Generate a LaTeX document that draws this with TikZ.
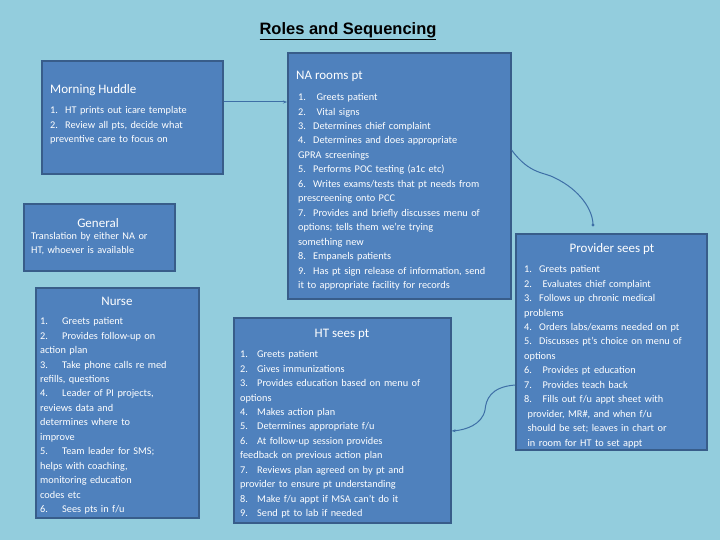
\documentclass[tikz,border=0pt]{standalone}
\usepackage{fontspec}
\setmainfont{Carlito}
\newfontfamily\titlefont{Liberation Sans}
\usetikzlibrary{arrows.meta}
\definecolor{bgc}{HTML}{93CDDD}
\definecolor{boxc}{HTML}{4F81BD}
\definecolor{edgec}{HTML}{385D8A}
\definecolor{linec}{HTML}{3E6FA6}
\newdimen\itmw \itmw=15pt
\newcommand\itm[2]{\par\hangindent=\itmw\hangafter=1\noindent\makebox[\itmw][l]{#1}#2}
\tikzset{
  panel/.style={draw=edgec, line width=1.6pt, fill=boxc, anchor=north west, inner sep=0pt},
  ptitle/.style={text=white, font=\fontsize{13}{15}\selectfont, inner sep=0pt},
  plist/.style={text=white, anchor=north west, inner sep=0pt, align=left,
     font=\fontsize{10.3}{14.45}\selectfont},
  conn/.style={linec, line width=1pt}
}
\begin{document}
\begin{tikzpicture}[x=1pt,y=-1pt]
\fill[bgc] (0,0) rectangle (720,540);
\useasboundingbox (0,0) rectangle (720,540);
\node[text=black, font=\titlefont\bfseries\fontsize{16.5}{19}\selectfont, inner sep=0pt] (title) at (348,31) {\underline{Roles and Sequencing}};
% boxes
\node[panel, minimum width=181, minimum height=113] (mh) at (41,60) {};
\node[panel, minimum width=151, minimum height=67] (gen) at (23,203) {};
\node[panel, minimum width=163, minimum height=230] (nurse) at (35,287) {};
\node[panel, minimum width=223, minimum height=246] (na) at (287,52) {};
\node[panel, minimum width=217, minimum height=205] (ht) at (233,317) {};
\node[panel, minimum width=191, minimum height=216] (prov) at (515,233) {};
% morning huddle
\node[ptitle, anchor=west] (mht) at (50,90) {Morning Huddle};
\node[plist, text width=170] (mhl) at (50,99) {%
\itm{1.}{HT prints out icare template}\itm{2.}{Review all pts, decide what\\ preventive care to focus on}};
% general
\node[ptitle] (gent) at (98,223) {General};
\node[plist, text width=150] (genl) at (31,232) {Translation by either NA or\\HT, whoever is available};
% NA
\node[ptitle, anchor=west] (nat) at (296,76) {NA rooms pt};
\node[plist, text width=215] (nal) at (298,86) {%
\itm{1.}{\ Greets patient}\itm{2.}{\ Vital signs}\itm{3.}{Determines chief complaint}%
\itm{4.}{Determines and does appropriate\\ GPRA screenings}\itm{5.}{Performs POC testing (a1c etc)}%
\itm{6.}{Writes exams/tests that pt needs from\\ prescreening onto PCC}%
\itm{7.}{Provides and briefly discusses menu of\\ options; tells them we’re trying\\ something new}%
\itm{8.}{Empanels patients}\itm{9.}{Has pt sign release of information, send\\ it to appropriate facility for records}};
% nurse
\node[ptitle] (nut) at (117,301) {Nurse};
\node[plist, text width=160] (nul) at (40,310) {\itmw=22pt%
\itm{1.}{Greets patient}\itm{2.}{Provides follow-up on\\action plan}\itm{3.}{Take phone calls re med\\refills, questions}%
\itm{4.}{Leader of PI projects,\\reviews data and\\determines where to\\improve}%
\itm{5.}{Team leader for SMS;\\helps with coaching,\\monitoring education\\codes etc}\itm{6.}{Sees pts in f/u}};
% HT
\node[ptitle] (htt) at (342,334) {HT sees pt};
\node[plist, text width=210] (htl) at (240,343) {\itmw=17pt%
\itm{1.}{Greets patient}\itm{2.}{Gives immunizations}\itm{3.}{Provides education based on menu of\\ options}%
\itm{4.}{Makes action plan}\itm{5.}{Determines appropriate f/u}%
\itm{6.}{At follow-up session provides\\ feedback on previous action plan}%
\itm{7.}{Reviews plan agreed on by pt and\\ provider to ensure pt understanding}%
\itm{8.}{Make f/u appt if MSA can’t do it}\itm{9.}{Send pt to lab if needed}};
% Provider
\node[ptitle] (prt) at (612,249) {Provider sees pt};
\node[plist, text width=185] (prl) at (524,258) {%
\itm{1.}{Greets patient}\itm{2.}{\ Evaluates chief complaint}\itm{3.}{Follows up chronic medical\\ problems}%
\itm{4.}{Orders labs/exams needed on pt}\itm{5.}{Discusses pt’s choice on menu of\\ options}%
\itm{6.}{\ Provides pt education}\itm{7.}{\ Provides teach back}%
\itm{8.}{\ Fills out f/u appt sheet with\\ \ provider, MR\#, and when f/u\\ \ should be set; leaves in chart or\\ \ in room for HT to set appt}};
% connectors
\coordinate (pe) at (593,225);
\draw[conn, -{Stealth[length=4pt]}] (mh.east |- 0,102) -- (na.west |- 0,102);
\draw[conn] (na.east |- 0,150) .. controls (530,175) and (545,172) .. (555,178) .. controls (580,190) and (593,210) .. (pe);
\fill[linec] (pe) circle (1.6);
\draw[conn, -{Stealth[length=4pt]}] (prov.west |- 0,385) .. controls (490,387) and (486,400) .. (485,410) .. controls (482,425) and (465,430) .. (ht.east |- 0,431);
\end{tikzpicture}
\end{document}
